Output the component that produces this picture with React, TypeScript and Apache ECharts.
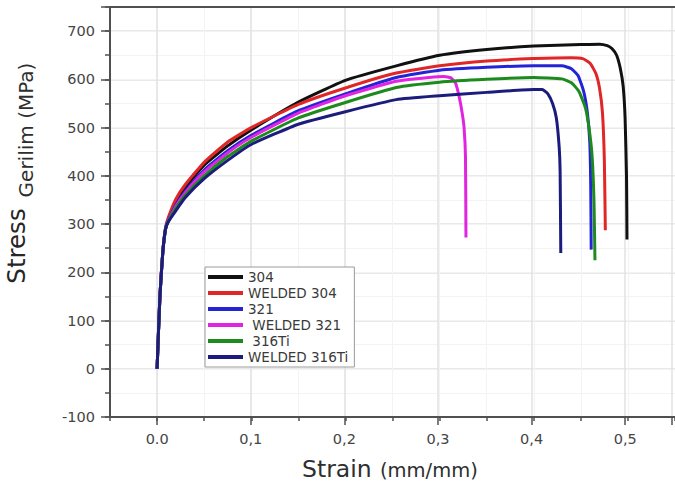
import React, { useEffect, useRef } from "react";
import * as echarts from "echarts";

// ---- data (strain in mm/mm, stress in MPa) ----
const seriesNames = ["304", "WELDED 304", "321", " WELDED 321", " 316Ti", "WELDED 316Ti"];
const seriesColors = ["#111111", "#e02626", "#2424d6", "#e024e0", "#1d8a1d", "#1c1c7c"];

const strain304 = [0, 0.003, 0.006, 0.009, 0.012, 0.02, 0.03, 0.05, 0.075, 0.1, 0.15, 0.2, 0.254, 0.3, 0.35, 0.4, 0.45, 0.47, 0.478, 0.483, 0.488, 0.492, 0.495, 0.497, 0.4985, 0.499];
const stress304 = [0, 150, 240, 290, 310, 345, 375, 422, 462, 495, 553, 598, 628, 650, 662, 669, 672, 673, 670, 664, 650, 622, 585, 520, 400, 268];

const strainW304 = [0, 0.003, 0.006, 0.009, 0.012, 0.02, 0.03, 0.05, 0.075, 0.1, 0.15, 0.2, 0.254, 0.3, 0.35, 0.4, 0.44, 0.452, 0.46, 0.466, 0.47, 0.473, 0.475, 0.476];
const stressW304 = [0, 150, 242, 293, 314, 352, 382, 428, 470, 500, 548, 582, 613, 628, 638, 643, 645, 643, 633, 612, 580, 530, 430, 287];

const strain321 = [0, 0.003, 0.006, 0.009, 0.012, 0.02, 0.03, 0.05, 0.075, 0.1, 0.15, 0.2, 0.254, 0.3, 0.35, 0.4, 0.43, 0.44, 0.447, 0.453, 0.457, 0.4595, 0.4605, 0.461];
const stress321 = [0, 150, 240, 290, 308, 340, 368, 412, 452, 484, 535, 570, 604, 619, 625, 628, 628, 622, 608, 575, 530, 470, 380, 247];

const strainW321 = [0, 0.003, 0.006, 0.009, 0.012, 0.02, 0.03, 0.05, 0.075, 0.1, 0.15, 0.2, 0.254, 0.289, 0.305, 0.312, 0.317, 0.321, 0.324, 0.326, 0.3275, 0.328];
const stressW321 = [0, 150, 240, 290, 307, 337, 365, 408, 448, 480, 530, 566, 596, 604, 606, 603, 592, 562, 530, 500, 440, 272];

const strain316 = [0, 0.003, 0.006, 0.009, 0.012, 0.02, 0.03, 0.05, 0.075, 0.1, 0.15, 0.2, 0.254, 0.3, 0.35, 0.4, 0.43, 0.44, 0.448, 0.455, 0.459, 0.462, 0.464, 0.465];
const stress316 = [0, 150, 240, 290, 306, 333, 360, 400, 440, 472, 520, 552, 583, 594, 600, 604, 601, 593, 575, 540, 495, 440, 345, 225];

const strainW316 = [0, 0.003, 0.006, 0.009, 0.012, 0.02, 0.03, 0.05, 0.075, 0.1, 0.15, 0.2, 0.254, 0.3, 0.35, 0.4, 0.409, 0.415, 0.42, 0.424, 0.427, 0.428, 0.4287];
const stressW316 = [0, 150, 240, 290, 305, 328, 355, 394, 432, 465, 507, 533, 558, 566, 573, 579, 579, 570, 550, 520, 460, 410, 240];

const strains = [strain304, strainW304, strain321, strainW321, strain316, strainW316];
const stresses = [stress304, stressW304, stress321, stressW321, stress316, stressW316];

const xTickValues = [0, 0.1, 0.2, 0.3, 0.4, 0.5];
const yTickValues = [-100, 0, 100, 200, 300, 400, 500, 600, 700];

const FONT = "DejaVu Sans";

export default function App() {
  const ref = useRef<HTMLDivElement>(null);

  useEffect(() => {
    if (!ref.current) return;
    const chart = echarts.init(ref.current, null, { renderer: "svg" });

    const series = seriesNames.map((name, i) => ({
      name,
      type: "line",
      xAxisIndex: 0,
      yAxisIndex: 0,
      showSymbol: false,
      symbol: "none",
      smooth: 0.15,
      lineStyle: { color: seriesColors[i], width: 3 },
      itemStyle: { color: seriesColors[i] },
      data: strains[i].map((s, j) => [s, stresses[i][j]]),
    }));

    const xLabel = (v: number) => {
      const hit = xTickValues.find((t) => Math.abs(t - v) < 1e-6);
      if (hit === undefined) return "";
      if (hit === 0) return "0.0";
      return hit.toFixed(1).replace(".", ",");
    };
    const yLabel = (v: number) => {
      const hit = yTickValues.find((t) => Math.abs(t - v) < 1e-6);
      return hit === undefined ? "" : String(hit);
    };

    const axisLineStyle = { color: "#505050", width: 2 };
    const tickStyle = { color: "#505050", width: 1.5 };

    chart.setOption({
      animation: false,
      backgroundColor: "#ffffff",
      grid: [
        { left: 110, right: -1, top: 7, bottom: 66 },
        { left: 110 + (0.05 / 0.6) * 566, right: -1, top: 7, bottom: 66 },
        { left: 110, right: -1, top: 7, bottom: 66 },
      ],
      xAxis: [
        {
          type: "value",
          gridIndex: 0,
          position: "bottom",
          min: -0.05,
          max: 0.55,
          interval: 0.05,
          axisLine: { show: true, onZero: false, lineStyle: axisLineStyle },
          axisTick: { show: true, length: 4, lineStyle: tickStyle },
          axisLabel: { show: false },
          splitLine: { show: true, lineStyle: { color: "#f3f3f3", width: 1 } },
        },
        {
          type: "value",
          gridIndex: 0,
          position: "top",
          min: -0.05,
          max: 0.55,
          interval: 0.05,
          axisLine: { show: true, onZero: false, lineStyle: axisLineStyle },
          axisTick: { show: false },
          axisLabel: { show: false },
          splitLine: { show: false },
        },
        {
          type: "value",
          gridIndex: 1,
          position: "bottom",
          min: 0,
          max: 0.55,
          interval: 0.1,
          axisLine: { show: false, onZero: false },
          axisTick: { show: true, length: 8, lineStyle: tickStyle },
          axisLabel: {
            show: true,
            margin: 14,
            fontFamily: FONT,
            fontSize: 14.5,
            color: "#454545",
            formatter: xLabel,
          },
          splitLine: { show: true, lineStyle: { color: "#e2e2e2", width: 1.5 } },
        },
        {
          type: "value",
          gridIndex: 2,
          show: false,
          min: -0.05,
          max: 0.55,
          axisLine: { show: false, onZero: false },
          axisTick: { show: false },
          axisLabel: { show: false },
          splitLine: { show: false },
        },
      ],
      yAxis: [
        {
          type: "value",
          gridIndex: 0,
          position: "left",
          min: -100,
          max: 750,
          interval: 100,
          axisLine: { show: true, onZero: false, lineStyle: axisLineStyle },
          axisTick: { show: true, length: 9, lineStyle: tickStyle },
          axisLabel: {
            show: true,
            margin: 15,
            fontFamily: FONT,
            fontSize: 14.5,
            color: "#454545",
            formatter: yLabel,
          },
          splitLine: { show: true, lineStyle: { color: "#e2e2e2", width: 1.5 } },
        },
        {
          type: "value",
          gridIndex: 1,
          show: false,
          min: -100,
          max: 750,
          axisLine: { show: false, onZero: false },
          axisTick: { show: false },
          axisLabel: { show: false },
          splitLine: { show: false },
        },
        {
          type: "value",
          gridIndex: 2,
          position: "left",
          min: -100,
          max: 750,
          interval: 50,
          axisLine: { show: false, onZero: false },
          axisTick: { show: true, length: 5, lineStyle: tickStyle },
          axisLabel: { show: false },
          splitLine: { show: true, lineStyle: { color: "#f3f3f3", width: 1 } },
        },
      ],
      legend: {
        show: true,
        orient: "vertical",
        left: 205,
        top: 267,
        padding: [2, 6, 2, 3],
        itemWidth: 35,
        itemHeight: 4,
        itemGap: 0,
        icon: "rect",
        backgroundColor: "#ffffff",
        borderColor: "#9a9a9a",
        borderWidth: 1,
        borderRadius: 0,
        textStyle: { fontFamily: FONT, fontSize: 13.5, color: "#3a3a3a", lineHeight: 16 },
        data: seriesNames,
      },
      graphic: [
        {
          type: "text",
          x: 302,
          y: 468.5,
          style: { text: "Strain", fontFamily: FONT, fontSize: 23.5, fill: "#2e2e2e", align: "left", verticalAlign: "middle" },
        },
        {
          type: "text",
          x: 380,
          y: 470,
          style: { text: "(mm/mm)", fontFamily: FONT, fontSize: 19.5, fill: "#2e2e2e", align: "left", verticalAlign: "middle" },
        },
        {
          type: "text",
          x: 16,
          y: 246,
          rotation: Math.PI / 2,
          style: { text: "Stress", fontFamily: FONT, fontSize: 24.5, fill: "#262626", align: "center", verticalAlign: "middle" },
        },
        {
          type: "text",
          x: 26,
          y: 130,
          rotation: Math.PI / 2,
          style: { text: "Gerilim (MPa)", fontFamily: FONT, fontSize: 20, fill: "#2e2e2e", align: "center", verticalAlign: "middle" },
        },
      ],
      series,
    });

    return () => chart.dispose();
  }, []);

  return <div ref={ref} style={{ width: 675, height: 483, position: "fixed", left: 0, top: 0 }} />;
}
